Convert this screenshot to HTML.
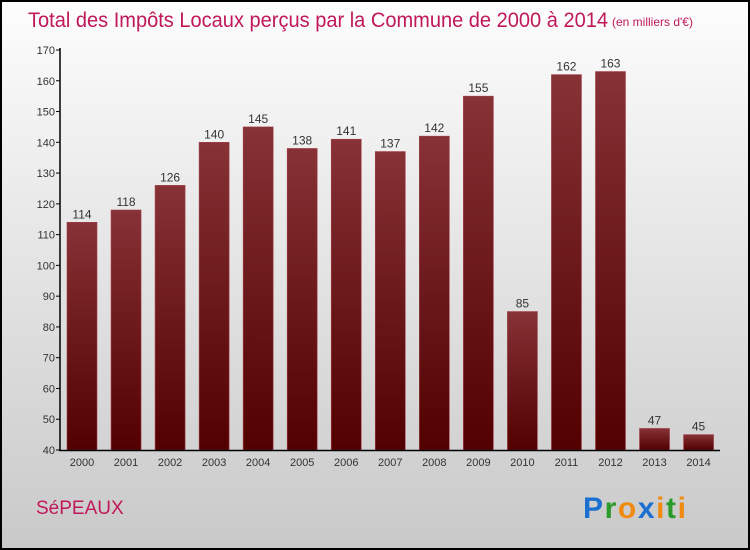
<!DOCTYPE html>
<html><head><meta charset="utf-8"><style>
html,body{margin:0;padding:0;width:750px;height:550px;overflow:hidden}
svg{display:block}
text{font-family:"Liberation Sans",sans-serif}
</style></head><body>
<svg width="750" height="550" xmlns="http://www.w3.org/2000/svg">
<defs>
<linearGradient id="bg" x1="0" y1="0" x2="0" y2="1"><stop offset="0" stop-color="#fdfdfd"/><stop offset="1" stop-color="#c9c9c9"/></linearGradient>
<linearGradient id="bar" x1="0" y1="0" x2="0" y2="1"><stop offset="0" stop-color="#863236"/><stop offset="1" stop-color="#520000"/></linearGradient>
</defs>
<rect x="1" y="1" width="748" height="548" fill="url(#bg)" stroke="#000" stroke-width="2"/>
<text x="28" y="27" font-size="21" fill="#c0185a" textLength="580" lengthAdjust="spacingAndGlyphs">Total des Impôts Locaux perçus par la Commune de 2000 à 2014</text>
<text x="612" y="26" font-size="12" fill="#c0185a">(en milliers d'€)</text>
<g id="plot"></g>
<text x="36" y="514" font-size="19" fill="#c0185a">SéPEAUX</text>
<g font-size="30" font-weight="bold">
<text x="583" y="518" textLength="103" lengthAdjust="spacing"><tspan fill="#1a6fd0">P</tspan><tspan fill="#2a9a2a">r</tspan><tspan fill="#f08a10">o</tspan><tspan fill="#1a6fd0">x</tspan><tspan fill="#f08a10">i</tspan><tspan fill="#2a9a2a">t</tspan><tspan fill="#f08a10">i</tspan></text>
</g>
</svg>
<script>
const years=["2000","2001","2002","2003","2004","2005","2006","2007","2008","2009","2010","2011","2012","2013","2014"];
const values=[114,118,126,140,145,138,141,137,142,155,85,162,163,47,45];
const yTicks=[40,50,60,70,80,90,100,110,120,130,140,150,160,170];
const NS="http://www.w3.org/2000/svg";
const g=document.getElementById('plot');
const y=v=>450-(v-40)*400/130;
const x=i=>82+i*44.04;
function el(t,a,p){const e=document.createElementNS(NS,t);for(const k in a)e.setAttribute(k,a[k]);(p||g).appendChild(e);return e;}
yTicks.forEach(t=>{
 el('line',{x1:56,x2:60,y1:y(t),y2:y(t),stroke:'#000'});
 const tx=el('text',{x:55,y:y(t)+4,'font-size':11,fill:'#333','text-anchor':'end'});
 tx.textContent=t;
 
 
});
values.forEach((v,i)=>{
 const r=el('rect',{x:x(i)-15,y:y(v),width:30,height:450-y(v),fill:'url(#bar)',stroke:'#a04048','stroke-width':0.6});
 
 
 const l=el('text',{x:x(i),y:y(v)-4,'font-size':12,fill:'#333','text-anchor':'middle'});
 l.textContent=v;
 
 
 const xl=el('text',{x:x(i),y:466,'font-size':11,fill:'#333','text-anchor':'middle'});
 xl.textContent=years[i];
 
 
});
const ya=el('line',{x1:60,x2:60,y1:48,y2:451,stroke:'#000','stroke-width':1.5});


const xa=el('line',{x1:59,x2:720,y1:450.5,y2:450.5,stroke:'#000','stroke-width':1.5});


</script>
</body></html>
